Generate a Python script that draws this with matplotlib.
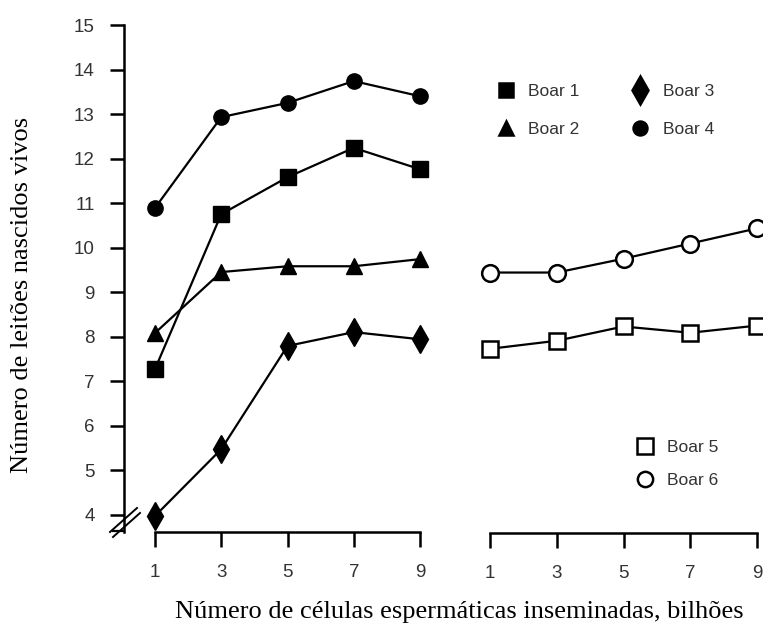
import numpy as np
import matplotlib.pyplot as plt
from matplotlib.lines import Line2D

# sperm cells inseminated (billions)
doses = [1, 3, 5, 7, 9]

# piglets born alive per boar
boar1 = [7.27, 10.75, 11.58, 12.24, 11.76]
boar2 = [8.08, 9.45, 9.58, 9.58, 9.74]
boar3 = [3.97, 5.47, 7.79, 8.10, 7.94]
boar4 = [10.89, 12.93, 13.25, 13.74, 13.40]
boar5 = [7.74, 7.92, 8.24, 8.10, 8.26]
boar6 = [9.45, 9.45, 9.76, 10.10, 10.44]

yticks = list(range(4, 16))
W, H = 763, 628

plt.rcParams['font.family'] = 'Liberation Sans'
fig = plt.figure(figsize=(W / 100, H / 100), dpi=100)

def px_box(x0, x1, ytop, ybot):
    return [x0 / W, 1 - ybot / H, (x1 - x0) / W, (ybot - ytop) / H]

ax1 = fig.add_axes(px_box(124, 420, 25, 532))
ax2 = fig.add_axes(px_box(490, 757, 25, 533))

lw = 1.6
filled = dict(color='black', lw=lw, clip_on=False, zorder=3)
ax1.plot(doses, boar4, marker='o', ms=11, **filled)
ax1.plot(doses, boar1, marker='s', ms=11, **filled)
ax1.plot(doses, boar2, marker='^', ms=11, **filled)
ax1.plot(doses, boar3, marker='d', ms=14, **filled)

hollow = dict(color='black', lw=lw, mfc='white', mew=1.8, clip_on=False, zorder=3)
ax2.plot(doses, boar6, marker='o', ms=12, **hollow)
ax2.plot(doses, boar5, marker='s', ms=12, **hollow)

ink = '#333333'
ymin, ymax = 3.61, 15
for ax in (ax1, ax2):
    ax.set_ylim(ymin, ymax)
    ax.set_xticks(doses)
    ax.set_xticklabels([str(d) for d in doses])
    ax.spines['top'].set_visible(False)
    ax.spines['right'].set_visible(False)
    ax.spines['bottom'].set_linewidth(1.8)
    ax.spines['bottom'].set_bounds(1, 9)
    ax.tick_params(axis='x', length=11, width=1.8, labelsize=13.5, pad=12,
                   color='black', labelcolor=ink)
    ax.patch.set_alpha(0)

ax1.set_xlim(0.064, 9)
ax1.spines['left'].set_linewidth(1.8)
ax1.set_yticks(yticks)
ax1.tick_params(axis='y', length=10, width=1.8, labelsize=13.5, pad=11,
                color='black', labelcolor=ink)

ax2.set_xlim(1, 9)
ax2.spines['left'].set_visible(False)
ax2.set_yticks([])

# axis break on the y axis
tr = ax1.transAxes
def to_ax(x, y):
    return (x - 124) / 296, (532 - y) / 507
for (xa, ya), (xb, yb) in [((110, 532), (137, 508)), ((113, 537), (140, 513))]:
    p0, p1 = to_ax(xa, ya), to_ax(xb, yb)
    ax1.plot([p0[0], p1[0]], [p0[1], p1[1]], color='black', lw=1.4,
             transform=tr, clip_on=False)
f0, f1 = to_ax(113, 531), to_ax(124, 531)
ax1.plot([f0[0], f1[0]], [f0[1], f1[1]], color='black', lw=1.6,
         transform=tr, clip_on=False)

# legends
def handle(marker, ms, mfc='black'):
    return Line2D([], [], ls='none', marker=marker, ms=ms, color='black',
                  mfc=mfc, mew=1.8)

leg_kw = dict(frameon=False, fontsize=12.5, handlelength=1.0, handletextpad=0.8,
              borderpad=0, borderaxespad=0)
l1 = fig.legend([handle('s', 10), handle('^', 10), handle('d', 14), handle('o', 10)],
                ['Boar 1', 'Boar 2', 'Boar 3', 'Boar 4'], ncol=2,
                columnspacing=3.0, labelspacing=1.3, loc='upper left',
                bbox_to_anchor=(497 / W, 1 - 84 / H), **leg_kw)
l2 = fig.legend([handle('s', 11, 'white'), handle('o', 11, 'white')],
                ['Boar 5', 'Boar 6'], labelspacing=1.0, loc='upper left',
                bbox_to_anchor=(636 / W, 1 - 440 / H), **leg_kw)
for lg in (l1, l2):
    for t in lg.get_texts():
        t.set_color(ink)

fig.text(22 / W, 1 - 295 / H, 'Número de leitões nascidos vivos',
         family='Liberation Serif', fontsize=19, rotation=90,
         ha='center', va='center')
fig.text(459 / W, 1 - 612 / H, 'Número de células espermáticas inseminadas, bilhões',
         family='Liberation Serif', fontsize=19, ha='center', va='center')

fig.savefig('out.png', dpi=100)
